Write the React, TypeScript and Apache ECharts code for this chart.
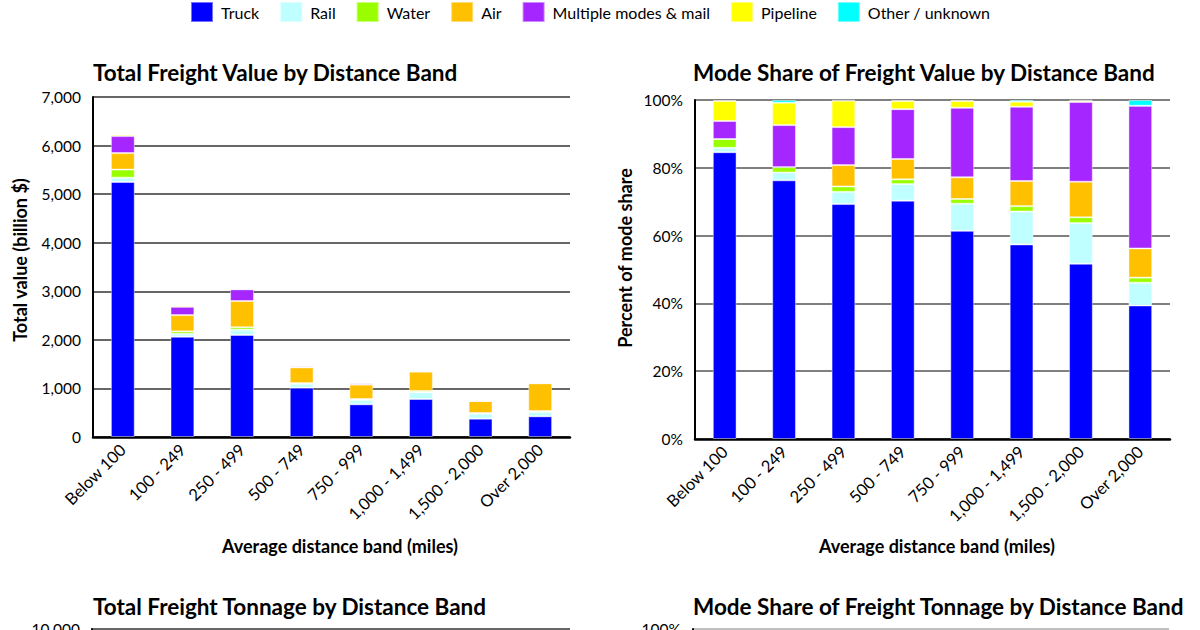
import React, { useEffect, useRef } from "react";
import * as echarts from "echarts";

const categories = ["Below 100", "100 - 249", "250 - 499", "500 - 749", "750 - 999", "1,000 - 1,499", "1,500 - 2,000", "Over 2,000"];
const modes = ["Truck", "Rail", "Water", "Air", "Multiple modes & mail", "Pipeline", "Other / unknown"];
const modeColors = ["#0000ff", "#c0ffff", "#99ff00", "#ffc000", "#a526ff", "#ffff00", "#00ffff"];

// Total freight value (billion $)
const valueTruck = [5250, 2065, 2100, 1015, 673, 782, 377, 426];
const valueRail = [90, 60, 110, 80, 90, 138, 103, 89];
const valueWater = [165, 50, 50, 15, 20, 27, 14, 20];
const valueAir = [340, 335, 540, 323, 295, 398, 247, 570];
const valueMulti = [350, 170, 240, 27, 28, 20, 0, 0];
const valuePipeline = [35, 30, 5, 5, 13, 5, 0, 13];
const valueOther = [0, 0, 0, 0, 0, 0, 0, 0];

// Mode share of freight value (%)
const shareTruck = [84.6, 76.3, 69.3, 70.3, 61.4, 57.4, 51.7, 39.4];
const shareRail = [1.3, 2.3, 3.6, 4.9, 8.0, 9.7, 12.0, 6.7];
const shareWater = [2.6, 1.6, 1.6, 1.4, 1.4, 1.6, 1.7, 1.5];
const shareAir = [0, 0, 6.3, 6.0, 6.4, 7.4, 10.5, 8.6];
const shareMulti = [5.3, 12.4, 11.2, 14.7, 20.5, 21.9, 23.5, 42.1];
const sharePipeline = [5.9, 6.6, 7.8, 2.4, 2.0, 1.5, 0.4, 0];
const shareOther = [0.3, 0.8, 0.2, 0.3, 0.3, 0.5, 0.2, 1.7];

const titles = [
  "Total Freight Value by Distance Band",
  "Mode Share of Freight Value by Distance Band",
  "Total Freight Tonnage by Distance Band",
  "Mode Share of Freight Tonnage by Distance Band",
];

const FONT = "Lato";

export default function App() {
  const ref = useRef<HTMLDivElement>(null);
  useEffect(() => {
    if (!ref.current) return;
    const chart = echarts.init(ref.current, undefined, { renderer: "svg" });
    const valueSets = [valueTruck, valueRail, valueWater, valueAir, valueMulti, valuePipeline, valueOther];
    const shareSets = [shareTruck, shareRail, shareWater, shareAir, shareMulti, sharePipeline, shareOther];

    const barStyle = (i: number) => ({
      color: modeColors[i],
      borderColor: "rgba(255,255,255,0.45)",
      borderWidth: 1,
    });

    const series: any[] = [];
    modes.forEach((m, i) => {
      series.push({
        name: m,
        type: "bar",
        xAxisIndex: 0,
        yAxisIndex: 0,
        stack: "value",
        barWidth: "40%",
        data: valueSets[i],
        itemStyle: barStyle(i),
      });
    });
    modes.forEach((m, i) => {
      series.push({
        name: m,
        type: "bar",
        xAxisIndex: 1,
        yAxisIndex: 1,
        stack: "share",
        barWidth: "40%",
        data: shareSets[i],
        itemStyle: barStyle(i),
      });
    });

    const catAxis = (gridIndex: number, show: boolean) => ({
      type: "category",
      gridIndex,
      data: categories,
      axisLine: { show: true, lineStyle: { color: "#000", width: 2.5 } },
      axisTick: { show: false },
      axisLabel: {
        show,
        rotate: 45,
        fontFamily: FONT,
        fontSize: 16.5,
        color: "#000",
        margin: 10,
      },
    });

    const valAxis = (gridIndex: number, max: number, interval: number, fmt: any, gridColor: string) => ({
      type: "value",
      gridIndex,
      min: 0,
      max,
      interval,
      axisLine: { show: true, lineStyle: { color: "#000", width: 2 } },
      axisTick: { show: false },
      axisLabel: {
        fontFamily: FONT,
        fontSize: 15.5,
        color: "#000",
        margin: 12,
        formatter: fmt,
      },
      splitLine: { show: true, lineStyle: { color: gridColor, width: 1.5 } },
    });

    const thousands = (v: number) => v.toLocaleString("en-US");
    const pct = (v: number) => v + "%";
    const topOnlyThousands = (v: number) => (v === 10000 ? "10,000" : "");
    const topOnlyPct = (v: number) => (v === 100 ? "100%" : "");

    chart.setOption({
      animation: false,
      backgroundColor: "#fff",
      textStyle: { fontFamily: FONT },
      title: [
        { text: titles[0], left: 93, top: 61 },
        { text: titles[1], left: 693, top: 61 },
        { text: titles[2], left: 93, top: 595 },
        { text: titles[3], left: 693, top: 595 },
      ].map((t) => ({
        ...t,
        padding: 0,
        textStyle: { fontFamily: FONT, fontSize: 22.5, fontWeight: "bold", color: "#000" },
      })),
      legend: {
        top: 1,
        left: 190,
        padding: 0,
        itemWidth: 22,
        itemHeight: 20,
        itemGap: 20,
        icon: "rect",
        data: modes,
        textStyle: { fontFamily: FONT, fontSize: 16, color: "#000", padding: [0, 0, 0, 3] },
      },
      grid: [
        { left: 93, top: 97, width: 477, height: 340 },
        { left: 695, top: 100, width: 475, height: 339 },
        { left: 92, top: 629, width: 478, height: 340 },
        { left: 693, top: 629, width: 476, height: 340 },
      ],
      xAxis: [catAxis(0, true), catAxis(1, true), catAxis(2, false), catAxis(3, false)],
      yAxis: [
        valAxis(0, 7000, 1000, thousands, "#333"),
        valAxis(1, 100, 20, pct, "#555"),
        valAxis(2, 10000, 2000, topOnlyThousands, "#333"),
        valAxis(3, 100, 20, topOnlyPct, "#aaa"),
      ],
      series,
      graphic: [
        {
          type: "text",
          x: 20,
          y: 260,
          rotation: Math.PI / 2,
          style: {
            text: "Total value (billion $)",
            font: `bold 18px ${FONT}`,
            fill: "#000",
            textAlign: "center",
            textVerticalAlign: "middle",
          },
        },
        {
          type: "text",
          x: 625,
          y: 258,
          rotation: Math.PI / 2,
          style: {
            text: "Percent of mode share",
            font: `bold 18px ${FONT}`,
            fill: "#000",
            textAlign: "center",
            textVerticalAlign: "middle",
          },
        },
        {
          type: "text",
          x: 340,
          y: 546,
          style: {
            text: "Average distance band (miles)",
            font: `bold 18px ${FONT}`,
            fill: "#000",
            textAlign: "center",
            textVerticalAlign: "middle",
          },
        },
        {
          type: "text",
          x: 937,
          y: 546,
          style: {
            text: "Average distance band (miles)",
            font: `bold 18px ${FONT}`,
            fill: "#000",
            textAlign: "center",
            textVerticalAlign: "middle",
          },
        },
      ],
    });
    return () => chart.dispose();
  }, []);
  return (
    <div
      ref={ref}
      style={{ position: "fixed", left: 0, top: 0, width: 1200, height: 630, overflow: "hidden" }}
    />
  );
}
